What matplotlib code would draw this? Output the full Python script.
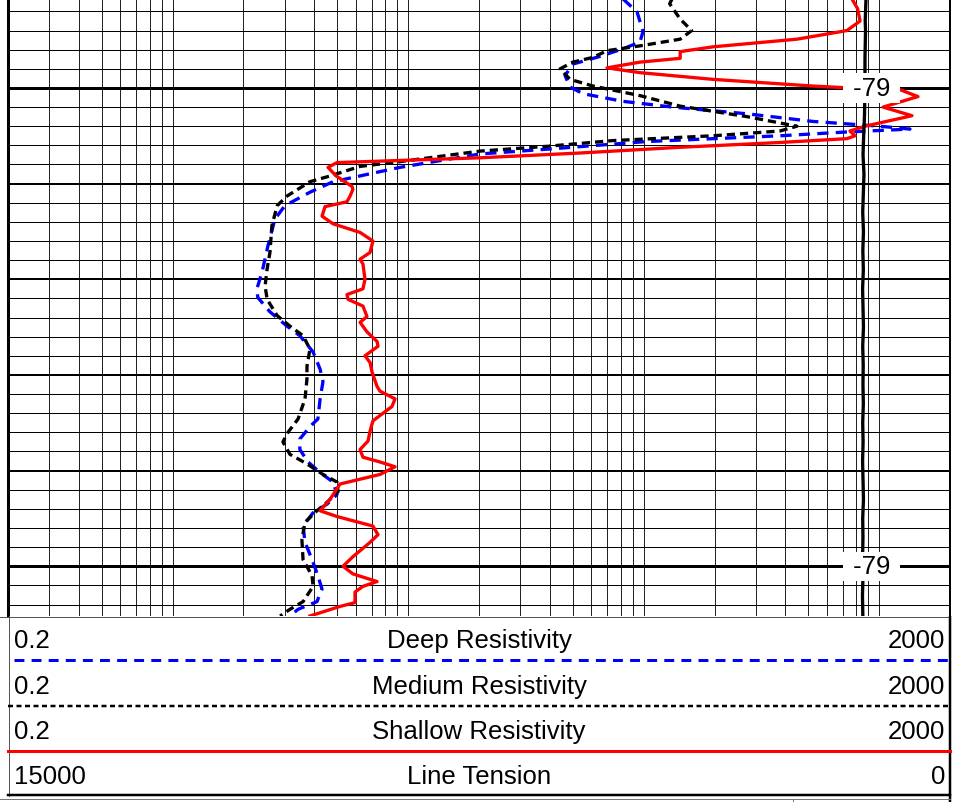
import numpy as np
import matplotlib.pyplot as plt
from matplotlib.transforms import blended_transform_factory

plt.rcParams['font.family'] = ['Liberation Sans', 'DejaVu Sans']

PX = 0.72  # one pixel in points at dpi 100

# depth window of the track (ft)
top_depth, bottom_depth = 2990.7, 3055.2

# deep resistivity (ohm.m)
deep_depth = [2990.7, 2992.05, 2994.1, 2995.2, 2995.9, 2996.7, 2997.5, 2998.7, 2999.9, 3000.6,
              3001.4, 3002.0, 3002.7, 3003.5, 3004.0, 3004.3, 3004.6, 3005.0, 3005.6, 3006.4,
              3006.9, 3008.3, 3009.8, 3010.9, 3012.3, 3013.7, 3016.5, 3019.2, 3021.0, 3021.9,
              3023.4, 3024.9, 3025.9, 3027.6, 3029.4, 3030.7, 3032.5, 3034.6, 3035.4, 3036.7,
              3037.8, 3039.1, 3040.2, 3041.2, 3042.5, 3043.5, 3044.4, 3045.8, 3047.5, 3049.3,
              3051.0, 3052.4, 3053.7, 3054.5, 3055.2]
deep_res = [81.8, 93.8, 99.4, 96.5, 81.8, 65.3, 50.1, 46.4, 48.7, 55.3,
            81.8, 133, 275, 524, 1009, 1353, 730, 379, 103, 38.9,
            20.2, 9.24, 4.80, 3.83, 3.00, 2.72, 2.54, 2.40, 2.28, 2.30,
            2.59, 3.06, 3.47, 3.95, 4.23, 4.35, 4.23, 4.14, 3.83, 3.47,
            3.47, 3.76, 4.23, 4.80, 4.99, 4.53, 3.95, 3.58, 3.65, 3.91,
            4.14, 4.31, 4.10, 3.41, 3.15]

# medium resistivity (ohm.m)
med_depth = [2990.7, 2991.2, 2992.8, 2994.0, 2994.9, 2995.6, 2996.1, 2996.8, 2997.3, 2998.0,
             2999.1, 2999.8, 3000.8, 3001.9, 3003.0, 3004.0, 3004.5, 3005.0, 3005.5, 3006.1,
             3006.6, 3007.7, 3008.2, 3009.2, 3009.8, 3011.3, 3012.3, 3014.4, 3017.2, 3018.9,
             3020.7, 3022.1, 3023.8, 3024.9, 3025.9, 3027.3, 3029.1, 3030.4, 3032.5, 3034.6,
             3036.0, 3037.0, 3038.3, 3039.3, 3040.4, 3041.2, 3042.2, 3043.3, 3044.2, 3045.4,
             3047.2, 3049.3, 3051.0, 3052.1, 3053.7, 3054.5, 3055.2]
med_res = [132, 129, 143, 160, 143, 96.5, 70, 61, 50, 44.2,
           48.7, 61, 96.5, 143, 275, 448, 379, 197, 74, 38.9,
           20.2, 9.24, 6.25, 4.66, 3.83, 3.06, 2.78, 2.64, 2.59, 2.52,
           2.47, 2.52, 2.78, 3.15, 3.58, 3.83, 3.72, 3.72, 3.65, 3.41,
           3.09, 2.94, 3.15, 3.72, 4.35, 4.99, 5.04, 4.53, 4.10, 3.65,
           3.54, 3.58, 3.91, 3.95, 3.58, 3.15, 2.86]

# shallow resistivity (ohm.m)
sh_depth = [2990.7, 2991.7, 2993.0, 2994.0, 2994.9, 2995.7, 2996.2, 2996.9, 2997.3, 2997.9,
            2998.4, 2999.1, 2999.8, 3000.0, 3000.1, 3000.9, 3002.0, 3002.9, 3004.0, 3004.5,
            3005.0, 3005.3, 3005.7, 3006.2, 3006.8, 3007.3, 3007.8, 3008.3, 3009.2, 3010.3,
            3010.6, 3011.3, 3011.9, 3012.4, 3013.4, 3014.2, 3015.1, 3016.0, 3017.2, 3017.9,
            3018.4, 3020.0, 3021.0, 3021.6, 3022.1, 3022.8, 3023.9, 3024.5, 3025.5, 3026.5,
            3027.0, 3028.0, 3028.7, 3029.7, 3031.2, 3031.7, 3032.5, 3033.3, 3034.8, 3035.9,
            3036.9, 3037.8, 3038.6, 3039.1, 3039.6, 3040.4, 3041.4, 3043.0, 3044.2, 3044.8,
            3045.8, 3046.7, 3047.5, 3049.0, 3050.0, 3050.8, 3051.6, 3052.1, 3052.7, 3053.8,
            3054.2, 3055.2]
sh_res = [767, 810, 830, 730, 448, 197, 143, 143, 96.5, 69.9,
          96.5, 197, 524, 752, 1203, 1462, 1039, 1379, 871, 752,
          790, 730, 379, 143, 53.7, 20.2, 4.99, 4.57, 4.95, 5.78,
          5.83, 5.67, 5.50, 4.44, 4.31, 4.80, 6.25, 7.09, 6.89, 6.25,
          6.43, 6.56, 6.43, 5.50, 5.56, 6.43, 6.69, 6.25, 6.69, 7.38,
          7.45, 6.56, 6.89, 7.03, 7.38, 7.60, 8.80, 8.54, 7.09, 6.89,
          6.76, 6.25, 6.43, 7.60, 8.80, 7.60, 5.14, 4.66, 4.23, 4.99,
          7.09, 7.45, 6.89, 5.83, 5.29, 5.83, 7.38, 6.43, 5.95, 5.95,
          5.14, 3.83]

# line tension (lbf), scale 15000 -> 0
ten_depth = [2990.7, 2993.0, 2994.0, 2997.0, 3000.0, 3003.0, 3005.0, 3007.0, 3009.0, 3011.0,
             3013.0, 3015.0, 3017.0, 3019.0, 3021.0, 3023.0, 3025.0, 3027.0, 3029.0, 3031.0,
             3033.0, 3035.0, 3037.0, 3039.0, 3041.0, 3043.0, 3045.0, 3047.0, 3049.0, 3051.0,
             3053.0, 3055.2]
ten_vals = [1338, 1350, 1345, 1354, 1354, 1362, 1375, 1385, 1370, 1380,
            1390, 1378, 1388, 1380, 1392, 1385, 1378, 1390, 1382, 1386,
            1380, 1390, 1384, 1392, 1385, 1378, 1390, 1386, 1392, 1385,
            1394, 1388]

depth_label_pos = [3000, 3050]
depth_label_txt = ['-79', '-79']

curve_names = ['Deep Resistivity', 'Medium Resistivity', 'Shallow Resistivity', 'Line Tension']
scale_left = ['0.2', '0.2', '0.2', '15000']
scale_right = ['2000', '2000', '2000', '0']
res_min, res_max = 0.2, 2000
ten_min, ten_max = 15000, 0

W, H = 966, 803
fig = plt.figure(figsize=(W / 100, H / 100), dpi=100)

# ---- log track ----
ax = fig.add_axes([8 / W, 186 / H, 942 / W, 617 / H])
ax.set_xscale('log')
ax.set_xlim(res_min, res_max)
ax.set_ylim(bottom_depth, top_depth)
ax.set_xticks([])
ax.set_yticks([])
ax.minorticks_off()
ax.tick_params(which='both', length=0)
ax.spines['top'].set_visible(False)
ax.spines['bottom'].set_visible(False)
ax.spines['left'].set_linewidth(3 * PX)
ax.spines['right'].set_linewidth(2 * PX)

grid_vals = [m * 10.0 ** e for e in range(-1, 4) for m in range(1, 10)]
for v in grid_vals:
    if res_min * 1.01 < v < res_max * 0.99:
        ax.axvline(v, color='#222222', lw=1.0 * PX, zorder=1)

for d in np.arange(2992, 3055, 2):
    if d % 50 == 0:
        lw = 3
    elif d % 10 == 0:
        lw = 2
    else:
        lw = 1
    ax.axhline(d, color='black', lw=lw * PX, zorder=1)

curve_kw = dict(lw=3.3 * PX, solid_joinstyle='round', dash_joinstyle='round')
ax.plot(deep_res, deep_depth, color='#0000ff', dashes=(3.4, 2.2), zorder=3, **curve_kw)
ax.plot(med_res, med_depth, color='black', dashes=(2.5, 1.5), zorder=3, **curve_kw)
ax.plot(sh_res, sh_depth, color='#ff0000', zorder=4, **curve_kw)

ax2 = ax.twiny()
ax2.set_xlim(ten_min, ten_max)
ax2.set_ylim(bottom_depth, top_depth)
ax2.axis('off')
ax2.plot(ten_vals, ten_depth, color='black', zorder=3, **curve_kw)

trans = blended_transform_factory(ax2.transAxes, ax2.transData)
for d, t in zip(depth_label_pos, depth_label_txt):
    ax2.text(0.9165, d, ' ' + t + ' ', transform=trans, ha='center', va='center',
             fontsize=18.5, color='black', zorder=10,
             bbox=dict(boxstyle='square,pad=0.1', fc='white', ec='none'))

# ---- header ----
hax = fig.add_axes([0, 0, 1, 186 / H])
hax.set_xlim(0, W)
hax.set_ylim(H, 617)
hax.axis('off')

row_text_y = [641.5, 687.5, 732.5, 777.5]
for name, lo, hi, yy in zip(curve_names, scale_left, scale_right, row_text_y):
    hax.text(14, yy, lo, ha='left', va='center', fontsize=18.5)
    hax.text(479, yy, name, ha='center', va='center', fontsize=18.5)
    hax.text(945, yy, hi, ha='right', va='center', fontsize=18.5)

hax.plot([0, 950], [617.5, 617.5], color='#555555', lw=1 * PX)
hax.plot([8.5, 8.5], [617, 797], color='#555555', lw=1 * PX)
hax.plot([949.5, 949.5], [617, 803], color='black', lw=2.5 * PX)
hax.plot([14, 950], [661, 661], color='#0000ff', lw=3 * PX, dashes=(3.3, 2.4))
hax.plot([8, 950], [707, 707], color='black', lw=2.5 * PX, dashes=(2.0, 1.4))
hax.plot([8, 950], [752, 752], color='#ff0000', lw=3 * PX)
hax.plot([8, 950], [796, 796], color='black', lw=2.5 * PX)
hax.plot([0, 950], [800, 800], color='#777777', lw=1 * PX)
hax.plot([793, 793], [800, 803], color='#777777', lw=1 * PX)

fig.savefig('out.png', dpi=100)
